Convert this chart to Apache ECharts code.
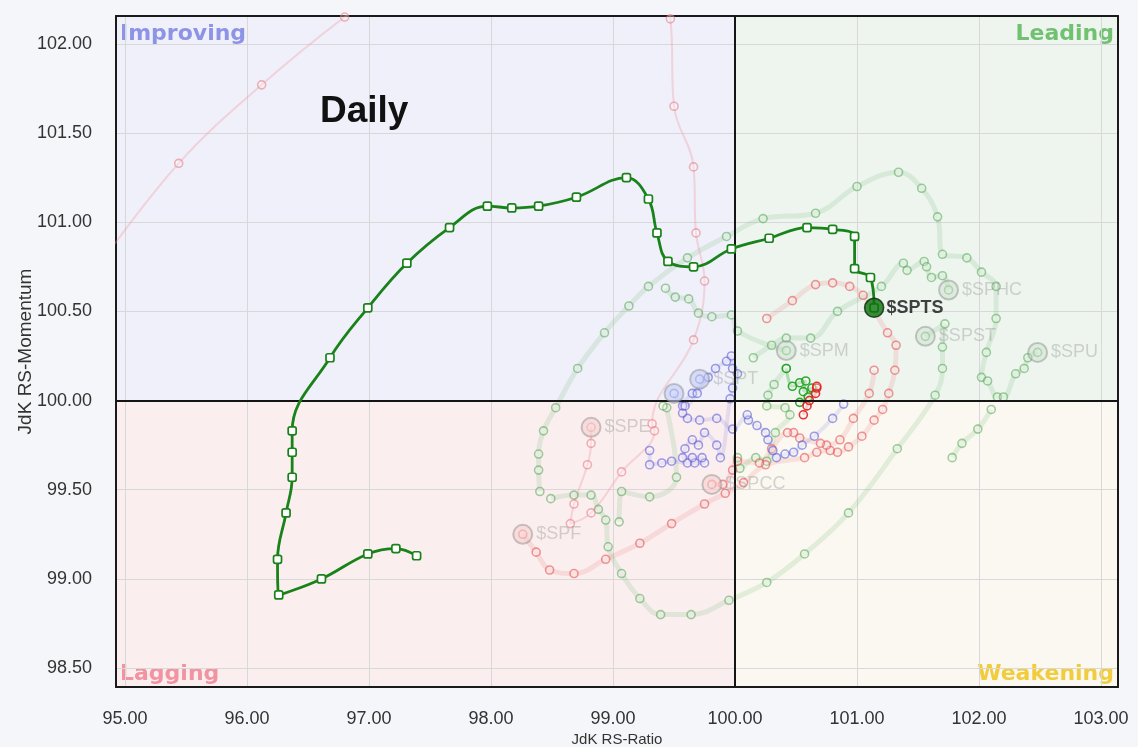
<!DOCTYPE html>
<html>
<head>
<meta charset="utf-8">
<script src="https://cdn.jsdelivr.net/npm/echarts@6/dist/echarts.min.js"></script>
<style>
html,body{margin:0;padding:0;background:#f5f6f9;}
#c{width:1138px;height:747px;}
</style>
</head>
<body>
<div id="c"></div>
<script>
// ---------- data ----------
const xRange = [94.926, 103.139];
const yRange = [98.394, 102.156];
const quadrantNames = ['Improving', 'Leading', 'Lagging', 'Weakening'];

// highlighted tail ($SPTS), oldest -> newest
const tailSPTS = [[97.39,99.13],[97.22,99.17],[96.99,99.14],[96.61,99.00],[96.26,98.91],[96.25,99.11],[96.32,99.37],[96.37,99.57],[96.37,99.71],[96.37,99.83],[96.68,100.24],[96.99,100.52],[97.31,100.77],[97.66,100.97],[97.97,101.09],[98.17,101.08],[98.39,101.09],[98.70,101.14],[99.11,101.25],[99.29,101.13],[99.36,100.94],[99.45,100.78],[99.66,100.75],[99.97,100.85],[100.28,100.91],[100.59,100.97],[100.80,100.96],[100.98,100.92],[100.98,100.74],[101.11,100.69],[101.14,100.52]];

// faded tails
const tailHC = [[100.15,100.24],[100.30,100.31],[100.42,100.35],[100.62,100.35],[100.84,100.50],[101.20,100.64],[101.38,100.77],[101.41,100.73],[101.55,100.78],[101.57,100.75],[101.61,100.69],[101.70,100.70],[101.75,100.62]];
const tailU = [[98.40,99.49],[98.39,99.61],[98.39,99.70],[98.43,99.83],[98.53,99.96],[98.71,100.18],[98.93,100.38],[99.13,100.53],[99.29,100.64],[99.61,100.80],[99.93,100.92],[100.23,101.02],[100.66,101.05],[101.00,101.20],[101.34,101.28],[101.53,101.19],[101.66,101.03],[101.70,100.82],[101.90,100.80],[102.02,100.72],[102.14,100.64],[102.14,100.46],[102.06,100.27],[102.02,100.13],[102.07,100.11],[102.15,100.02],[102.20,100.02],[102.30,100.15],[102.37,100.18],[102.40,100.24],[102.48,100.27]];
const tailST = [[98.49,99.45],[98.68,99.47],[98.82,99.47],[98.88,99.39],[98.94,99.33],[98.96,99.18],[99.07,99.03],[99.22,98.89],[99.39,98.80],[99.64,98.80],[99.95,98.88],[100.26,98.98],[100.57,99.14],[100.93,99.37],[101.33,99.73],[101.64,100.03],[101.70,100.18],[101.70,100.30],[101.72,100.43],[101.56,100.36]];
const tailM = [[99.43,100.63],[99.51,100.58],[99.62,100.57],[99.70,100.49],[99.81,100.47],[99.97,100.48],[100.02,100.39],[100.42,100.28]];
const tailG5 = [[100.02,99.68],[100.04,99.62],[100.17,99.68],[100.26,99.66],[100.33,99.82],[100.45,99.92],[100.41,99.96],[100.26,99.97],[100.27,100.03],[100.32,100.09],[100.42,100.18]];
const tailG5b = [[100.42,100.18],[100.47,100.08],[100.53,100.10],[100.58,100.11],[100.56,100.05],[100.63,100.07],[100.60,100.02],[100.53,99.99]];
const tailG6 = [[99.05,99.32],[99.07,99.49],[99.30,99.46],[99.52,99.57],[99.44,99.96],[99.41,99.97]];
const tailG7 = [[101.78,99.68],[101.86,99.76],[101.99,99.84],[102.10,99.95]];
const tailT = [[100.89,99.98],[100.80,99.90],[100.65,99.80],[100.55,99.75],[100.48,99.71],[100.41,99.70],[100.34,99.68],[100.31,99.72],[100.27,99.78],[100.25,99.82],[100.18,99.86],[100.11,99.89],[100.10,99.92],[99.98,99.84],[99.85,99.90],[99.71,99.89],[99.61,99.90],[99.57,99.93],[99.57,99.97],[99.65,100.04],[99.78,100.13],[99.71,100.12]];
const tailN = [[99.30,99.72],[99.30,99.64],[99.40,99.65],[99.48,99.66],[99.61,99.65],[99.67,99.65],[99.75,99.65],[99.73,99.68],[99.65,99.68],[99.57,99.68],[99.59,99.73],[99.65,99.78],[99.70,99.75],[99.75,99.82],[99.85,99.75],[99.88,99.68],[99.96,100.01],[99.98,100.07],[100.02,100.15],[99.98,100.18],[99.97,100.25],[99.93,100.22],[99.84,100.18],[99.69,100.04],[99.59,99.97],[99.50,100.04]];
const tailE = [[94.80,100.77],[95.44,101.33],[96.12,101.77],[96.80,102.15],[97.50,102.49],[98.24,102.69],[98.93,102.63],[99.34,102.41],[99.47,102.14],[99.50,101.65],[99.66,101.31],[99.68,100.94],[99.75,100.67],[99.66,100.34],[99.32,99.87],[99.34,99.83],[99.07,99.60],[98.82,99.37],[98.65,99.31],[98.68,99.42],[98.79,99.64],[98.82,99.76],[98.82,99.85]];
const tailF = [[100.26,100.46],[100.47,100.56],[100.66,100.65],[100.80,100.66],[100.94,100.64],[101.05,100.59],[101.25,100.38],[101.32,100.31],[101.31,100.17],[101.26,100.04],[101.21,99.95],[101.14,99.89],[101.04,99.80],[100.93,99.74],[100.84,99.71],[100.78,99.72],[100.67,99.71],[100.57,99.68],[100.25,99.64],[100.07,99.54],[99.92,99.48],[99.75,99.42],[99.48,99.31],[99.22,99.20],[98.94,99.11],[98.68,99.03],[98.48,99.05],[98.37,99.15],[98.26,99.25]];
const tailCC = [[101.14,100.17],[101.10,100.04],[100.97,99.90],[100.86,99.78],[100.75,99.75],[100.70,99.76],[100.53,99.79],[100.48,99.82],[100.43,99.82],[100.30,99.73],[100.20,99.65],[100.02,99.66],[99.98,99.61],[99.90,99.53],[99.81,99.53]];
const tailR4 = [[100.56,99.92],[100.59,99.97],[100.61,100.00],[100.66,100.04],[100.67,100.07],[100.67,100.08]];

// heads of the faded tails
const headNames = ['$SPHC','$SPST','$SPU','$SPM','$SPT','$SPN','$SPE','$SPF','$SPCC'];
const headPoints = [[101.75,100.62],[101.56,100.36],[102.48,100.27],[100.42,100.28],[99.71,100.12],[99.50,100.04],[98.82,99.85],[98.26,99.25],[99.81,99.53]];
const mainName = '$SPTS';

// ---------- styles ----------
const palette = {
  green:  {line:'rgba(110,185,110,0.18)', sym:'rgba(70,165,70,0.52)', w:5},
  greenB: {line:'rgba(60,170,60,0.35)',   sym:'rgba(25,160,25,0.9)',  w:3},
  red:    {line:'rgba(235,115,115,0.17)', sym:'rgba(228,70,70,0.55)', w:5},
  redB:   {line:'rgba(230,60,60,0.30)',   sym:'rgba(225,30,30,0.9)',  w:3},
  pink:   {line:'rgba(240,150,160,0.33)', sym:'rgba(232,120,130,0.55)', w:2},
  blue:   {line:'rgba(120,120,225,0.16)', sym:'rgba(80,80,215,0.55)',  w:4}
};
const headTint = {
  '$SPHC':'rgba(200,220,200,0.55)','$SPST':'rgba(200,220,200,0.55)','$SPU':'rgba(200,220,200,0.55)','$SPM':'rgba(200,220,200,0.55)',
  '$SPT':'rgba(195,205,245,0.7)','$SPN':'rgba(195,205,245,0.7)',
  '$SPE':'rgba(245,205,205,0.7)','$SPF':'rgba(245,205,205,0.7)','$SPCC':'rgba(245,205,205,0.7)'
};
const hiddenLabels = ['$SPN'];

const tails = [
  [tailU,'green'],[tailST,'green'],[tailHC,'green'],[tailM,'green'],[tailG5,'green'],[tailG6,'green'],[tailG7,'green'],
  [tailE,'pink'],[tailF,'red'],[tailCC,'red'],
  [tailT,'blue'],[tailN,'blue'],
  [tailG5b,'greenB'],[tailR4,'redB']
];

const FONT = 'Liberation Sans, Arial, sans-serif';

const series = [];
// background quadrants + quadrant lines
const qLabel = (pos, color, dy) => ({show:true, position:pos, distance:4, offset:[0, dy], fontFamily:'DejaVu Sans', fontWeight:'bold', fontSize:22, color:color});
series.push({
  type:'scatter', data:[], silent:true, symbolSize:0,
  markArea:{
    silent:true,
    data:[
      [{name:quadrantNames[0], xAxis:xRange[0], yAxis:100, itemStyle:{color:'#eff0f9'}, label:qLabel('insideTopLeft','#8d94e6', 3)}, {xAxis:100, yAxis:yRange[1]}],
      [{name:quadrantNames[1], xAxis:100, yAxis:100, itemStyle:{color:'#eef5ef'}, label:qLabel('insideTopRight','#72c072', 3)}, {xAxis:xRange[1], yAxis:yRange[1]}],
      [{name:quadrantNames[2], xAxis:xRange[0], yAxis:yRange[0], itemStyle:{color:'#fbeeef'}, label:qLabel('insideBottomLeft','#f193a0', 2)}, {xAxis:100, yAxis:100}],
      [{name:quadrantNames[3], xAxis:100, yAxis:yRange[0], itemStyle:{color:'#fbf8f1'}, label:qLabel('insideBottomRight','#f1cc3c', 2)}, {xAxis:xRange[1], yAxis:100}]
    ]
  },
  markLine:{
    silent:true, symbol:['none','none'], label:{show:false},
    lineStyle:{color:'#151515', width:2, type:'solid'},
    emphasis:{disabled:true},
    data:[{xAxis:100},{yAxis:100}]
  }
});

tails.forEach(([d, k]) => {
  const p = palette[k];
  series.push({
    type:'line', data:d, smooth:0.4, silent:true, z:4,
    symbol:'circle', symbolSize:8, showSymbol:true,
    lineStyle:{color:p.line, width:p.w},
    itemStyle:{color:'rgba(255,255,255,0.25)', borderColor:p.sym, borderWidth:1.6},
    emphasis:{disabled:true}
  });
});

// heads of faded tails
series.push({
  type:'scatter', silent:true, z:5, symbolSize:19,
  data: headNames.map((n,i) => ({
    name:n, value:headPoints[i],
    itemStyle:{color:headTint[n], borderColor:'rgba(110,110,110,0.45)', borderWidth:2},
    label:{show: hiddenLabels.indexOf(n) < 0}
  })),
  label:{show:true, position:'right', distance:3, formatter:'{b}', color:'rgba(120,120,120,0.38)', fontSize:18, fontFamily:FONT},
  emphasis:{disabled:true}
});

// highlighted tail
series.push({
  type:'line', data:tailSPTS, smooth:0.4, silent:true, z:6,
  symbol:'roundRect', symbolSize:8, showSymbol:true,
  lineStyle:{color:'#1a821a', width:2.8},
  itemStyle:{color:'#ffffff', borderColor:'#1a821a', borderWidth:1.7},
  emphasis:{disabled:true}
});
series.push({
  type:'scatter', silent:true, z:7, symbolSize:19,
  data:[{name:mainName, value:tailSPTS[tailSPTS.length-1]}],
  itemStyle:{color:'#0c720c', borderColor:'#082808', borderWidth:1.6},
  label:{show:true, position:'right', distance:2, formatter:'{b}', color:'#111', fontWeight:'bold', fontSize:18, fontFamily:FONT},
  emphasis:{disabled:true}
});

const axisLineStyle = {color:'#1a1a1a', width:2};
const fmtX = v => Math.abs(v - Math.round(v)) < 1e-6 ? v.toFixed(2) : '';
const fmtY = v => Math.abs(v*2 - Math.round(v*2)) < 1e-6 ? v.toFixed(2) : '';

const option = {
  backgroundColor:'#f5f6f9',
  animation:false,
  title:{text:'Daily', left:320, top:93, padding:0, textStyle:{fontSize:37, fontWeight:'bold', color:'#111', fontFamily:FONT}},
  grid:{left:116, right:20, top:16, bottom:60, containLabel:false, outerBoundsMode:'none'},
  xAxis:[
    {type:'value', min:xRange[0], max:xRange[1], splitNumber:8, minInterval:1, maxInterval:1, position:'bottom', z:3,
     axisLine:{show:true, onZero:false, lineStyle:axisLineStyle}, axisTick:{show:false},
     axisLabel:{formatter:fmtX, fontSize:18, color:'#333', margin:23, fontFamily:FONT, showMinLabel:false, showMaxLabel:false},
     splitLine:{show:true, lineStyle:{color:'#d8d8da', width:1}},
     name:'JdK RS-Ratio', nameLocation:'middle', nameGap:45, nameMoveOverlap:false, nameTextStyle:{fontSize:15, color:'#333', fontFamily:FONT}},
    {type:'value', min:xRange[0], max:xRange[1], position:'top', z:3,
     axisLine:{show:true, onZero:false, lineStyle:axisLineStyle}, axisTick:{show:false}, axisLabel:{show:false}, splitLine:{show:false}}
  ],
  yAxis:[
    {type:'value', min:yRange[0], max:yRange[1], splitNumber:7, minInterval:0.5, maxInterval:0.5, position:'left', z:3,
     axisLine:{show:true, onZero:false, lineStyle:axisLineStyle}, axisTick:{show:false},
     axisLabel:{formatter:fmtY, fontSize:18, color:'#333', margin:24, fontFamily:FONT, showMinLabel:false, showMaxLabel:false},
     splitLine:{show:true, lineStyle:{color:'#d8d8da', width:1}},
     name:'JdK RS-Momentum', nameLocation:'middle', nameGap:81, nameMoveOverlap:false, nameTextStyle:{fontSize:19, color:'#333', fontFamily:FONT}},
    {type:'value', min:yRange[0], max:yRange[1], position:'right', z:3,
     axisLine:{show:true, onZero:false, lineStyle:axisLineStyle}, axisTick:{show:false}, axisLabel:{show:false}, splitLine:{show:false}}
  ],
  series:series
};

const chart = echarts.init(document.getElementById('c'), null, {renderer:'canvas'});
chart.setOption(option);
</script>
</body>
</html>
